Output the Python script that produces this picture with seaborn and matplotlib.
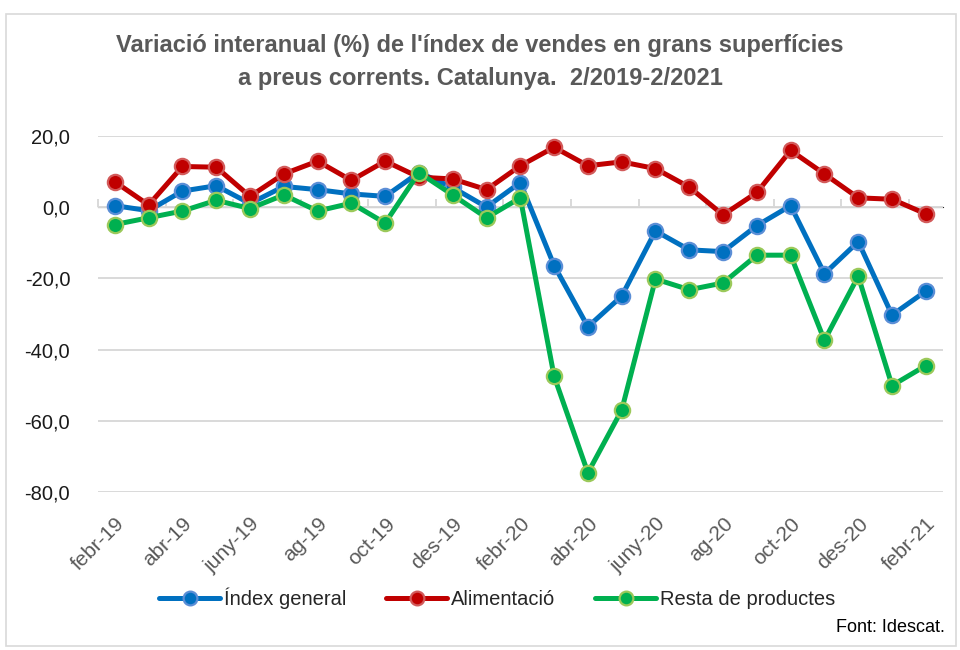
import numpy as np
import pandas as pd
import seaborn as sns
import matplotlib.pyplot as plt
from matplotlib.patches import Rectangle

sns.set_style('white')
plt.rcParams['font.family'] = ['Liberation Sans', 'DejaVu Sans']

months = ['febr-19', 'març-19', 'abr-19', 'maig-19', 'juny-19', 'jul-19', 'ag-19', 'set-19',
          'oct-19', 'nov-19', 'des-19', 'gen-20', 'febr-20', 'març-20', 'abr-20', 'maig-20',
          'juny-20', 'jul-20', 'ag-20', 'set-20', 'oct-20', 'nov-20', 'des-20', 'gen-21', 'febr-21']
index_general = [0.4, -1.0, 4.5, 6.0, 1.0, 5.8, 4.9, 3.7, 3.0, 9.7, 5.5, 0.0, 6.9,
                 -16.4, -33.6, -25.0, -6.7, -12.0, -12.5, -5.2, 0.4, -18.7, -9.7, -30.3, -23.6]
alimentacio = [7.1, 0.6, 11.4, 11.2, 3.0, 9.3, 12.9, 7.5, 12.9, 8.4, 7.9, 4.9, 11.6,
               16.8, 11.6, 12.7, 10.8, 5.6, -2.2, 4.1, 15.9, 9.3, 2.6, 2.2, -1.9]
resta = [-4.9, -3.0, -1.1, 1.9, -0.4, 3.4, -1.1, 1.1, -4.5, 9.7, 3.4, -3.0, 2.6,
         -47.5, -74.6, -57.0, -20.2, -23.2, -21.3, -13.5, -13.5, -37.4, -19.4, -50.1, -44.5]

df = pd.DataFrame({'mes': months, 'pos': np.arange(len(months)),
                   'Índex general': index_general, 'Alimentació': alimentacio,
                   'Resta de productes': resta})

series = [('Índex general', '#0070C0', '#5B8ED6'),
          ('Alimentació', '#C00000', '#D25A5A'),
          ('Resta de productes', '#00B050', '#9BC95A')]

fig = plt.figure(figsize=(9.6, 6.5), dpi=100)
ax = fig.add_axes([0.102, 0.243, 0.880, 0.548])

for name, col, edge in series:
    sns.lineplot(data=df, x='pos', y=name, ax=ax, color=col, linewidth=3.6,
                 marker='o', markersize=11, markerfacecolor=col,
                 markeredgecolor=edge, markeredgewidth=1.6, label=name)

ax.set_xlim(-0.5, len(months) - 0.5)
ax.set_ylim(-80, 20)
ax.set_yticks(np.arange(-80, 21, 20))
ax.set_yticklabels([f'{v:.1f}'.replace('.', ',') for v in np.arange(-80, 21, 20)],
                   fontsize=14.5, color='#1a1a1a')
ax.set_xticks(df['pos'][::2])
ax.set_xticklabels(df['mes'][::2], rotation=45, ha='right', rotation_mode='anchor',
                   fontsize=15, color='#595959')
ax.tick_params(axis='x', length=0, pad=16)
ax.tick_params(axis='y', length=0, pad=20)
ax.set_xlabel('')
ax.set_ylabel('')
ax.grid(axis='y', color='#D9D9D9', linewidth=1.4)
ax.set_axisbelow(True)
for s in ax.spines.values():
    s.set_visible(False)

# category axis line at 0 with tick marks between categories
sec = ax.secondary_xaxis(0.8)
sec.set_xticks(np.arange(-0.5, len(months), 2))
sec.set_xticklabels([])
sec.tick_params(length=6, width=1.4, color='#D9D9D9', direction='out')
sec.spines['bottom'].set_color('#D9D9D9')
sec.spines['bottom'].set_linewidth(1.4)

ax.get_legend().remove()
handles, labels = ax.get_legend_handles_labels()
fig.legend(handles, labels, loc='center', bbox_to_anchor=(0.518, 0.08), ncol=3,
           frameon=False, fontsize=14.5, handlelength=3.0, handletextpad=0.2,
           columnspacing=2.0, markerscale=0.9)

fig.text(0.5, 0.905, "Variació interanual (%) de l'índex de vendes en grans superfícies\n"
         "a preus corrents. Catalunya.  2/2019-2/2021",
         ha='center', va='center', fontsize=17, fontweight='bold', color='#595959',
         linespacing=1.55)
fig.text(0.984, 0.035, 'Font: Idescat.', ha='right', va='center', fontsize=13, color='black')

fig.patches.append(Rectangle((0.006, 0.006), 0.99, 0.972, transform=fig.transFigure,
                             fill=False, edgecolor='#D9D9D9', linewidth=1.2))

fig.savefig('out.png', dpi=100)
